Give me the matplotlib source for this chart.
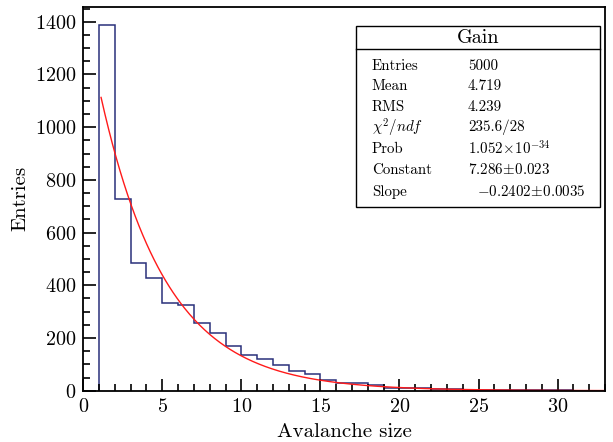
import numpy as np
import matplotlib
matplotlib.use("Agg")
import matplotlib.pyplot as plt
from matplotlib.ticker import MultipleLocator

plt.rcParams['font.family'] = 'serif'
plt.rcParams['font.serif'] = ['cmr10']
plt.rcParams['mathtext.fontset'] = 'cm'
plt.rcParams['axes.formatter.use_mathtext'] = True

# Histogram data (bin edges 1..33, width 1)
bin_edges = list(range(1, 34))
counts = [1388, 726, 486, 429, 334, 325, 256, 220, 171, 135, 120, 97, 76, 62,
          39, 30, 30, 22, 9, 9, 12, 6, 5, 4, 3, 2, 2, 1, 1, 1, 0, 0]

# Fit parameters: exp(constant + slope * x)
fit_constant = 7.286
fit_slope = -0.2402
fit_start = 1.13
fit_end = 33.0

stats_labels = ["Entries", "Mean", "RMS", r"$\chi^2/ndf$", "Prob", "Constant", "Slope"]
stats_values = ["5000", "4.719", "4.239", "235.6/28", r"$1.052\!\times\!10^{-34}$",
                r"$7.286\!\pm\!0.023$", r"$-0.2402\!\pm\!0.0035$"]

W, H = 613, 442
fig = plt.figure(figsize=(W / 100, H / 100), dpi=100)
x0, x1, y0, y1 = 83.2, 605, 6.7, 390.7
ax = fig.add_axes([x0 / W, 1 - y1 / H, (x1 - x0) / W, (y1 - y0) / H])

ax.stairs(counts, bin_edges, baseline=0, color='#29307a', linewidth=1.1)

xf = np.linspace(fit_start, fit_end, 400)
ax.plot(xf, np.exp(fit_constant + fit_slope * xf), color='#ff1a1a', linewidth=1.0)

ax.set_xlim(0, 33)
ax.set_ylim(0, 1457)
ax.xaxis.set_major_locator(MultipleLocator(5))
ax.xaxis.set_minor_locator(MultipleLocator(1))
ax.yaxis.set_major_locator(MultipleLocator(200))
ax.yaxis.set_minor_locator(MultipleLocator(50))
ax.tick_params(which='both', direction='in', top=False, right=False, labelsize=14.5, width=1.2)
ax.tick_params(which='major', length=9)
ax.tick_params(which='minor', length=5)
ax.tick_params(axis='x', pad=5)
ax.tick_params(axis='y', pad=5)
for s in ax.spines.values():
    s.set_linewidth(1.3)
ax.set_xlabel("Avalanche size", fontsize=15)
ax.set_ylabel("Entries", fontsize=15)
ax.xaxis.set_label_coords(0.5, -(423.0 - y1) / (y1 - y0))
ax.yaxis.set_label_coords(-(x0 - 29.0) / (x1 - x0), 0.5)

# Stats box
bx0, by0, bx1, by1 = 356, 26, 600, 207
sep = 49
box = plt.Rectangle((bx0 / W, 1 - by1 / H), (bx1 - bx0) / W, (by1 - by0) / H,
                    transform=fig.transFigure, facecolor='white', edgecolor='black',
                    linewidth=1.0, zorder=5)
fig.add_artist(box)
fig.add_artist(plt.Line2D([bx0 / W, bx1 / W], [1 - sep / H, 1 - sep / H],
                          transform=fig.transFigure, color='black', linewidth=1.0, zorder=6))
fig.text((bx0 + bx1) / 2 / W, 1 - 38 / H, "Gain", ha='center', va='center', fontsize=14.5, zorder=7)
row_y = [65.7, 86, 106.7, 127.5, 149, 170, 192]
for i, (lab, val) in enumerate(zip(stats_labels, stats_values)):
    fig.text(371.7 / W, 1 - row_y[i] / H, lab, ha='left', va='center', fontsize=10.8, zorder=7)
    vx = 476.7 if i == len(stats_labels) - 1 else 468
    fig.text(vx / W, 1 - row_y[i] / H, val, ha='left', va='center', fontsize=10.8, zorder=7)

fig.savefig("out.png", dpi=100)
